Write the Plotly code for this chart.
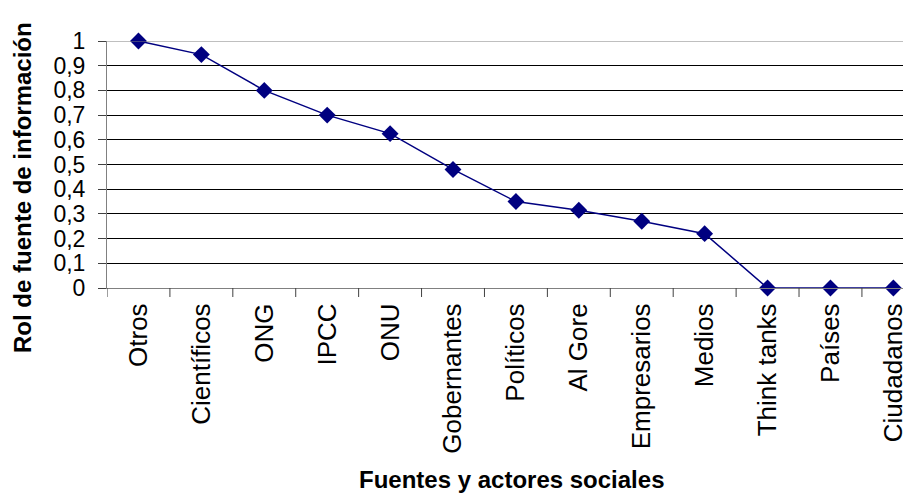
import plotly.graph_objects as go

categories = ["Otros", "Científicos", "ONG", "IPCC", "ONU", "Gobernantes", "Políticos",
              "Al Gore", "Empresarios", "Medios", "Think tanks", "Países", "Ciudadanos"]
values = [1.0, 0.945, 0.8, 0.7, 0.625, 0.48, 0.35, 0.315, 0.27, 0.22, 0.0, 0.0, 0.0]
y_title = "Rol de fuente de información"
x_title = "Fuentes y actores sociales"

FONT = "Liberation Sans, Arial, sans-serif"

# page body has an 8px default margin; figure drawn at offset (8, 8)
W, H = 903, 485
L, T, B = 99, 33, 205
PH = H - T - B  # plot height

fig = go.Figure()
fig.add_trace(go.Scatter(
    x=list(range(len(categories))), y=values, mode="lines+markers",
    line=dict(color="#000080", width=1.5),
    marker=dict(symbol="diamond", size=13, color="#000080"),
    cliponaxis=False, showlegend=False,
))

fig.update_layout(
    width=W, height=H,
    margin=dict(l=L, r=0, t=T, b=B, pad=0),
    paper_bgcolor="white", plot_bgcolor="white",
    separators=",.",
    font=dict(family=FONT, color="black"),
    xaxis=dict(
        type="linear", range=[-0.5, 12.28],
        tickmode="array", tickvals=list(range(len(categories))), ticktext=categories,
        tickangle=-90, tickfont=dict(size=26, family=FONT),
        showgrid=False, zeroline=False,
        showline=True, linecolor="#808080", linewidth=1,
        ticks="", ticklabelstandoff=4,
    ),
    yaxis=dict(
        range=[0, 1], dtick=0.1, tick0=0,
        tickfont=dict(size=23, family=FONT),
        showgrid=True, gridcolor="black", gridwidth=1,
        zeroline=False,
        showline=True, linecolor="#808080", linewidth=1,
        ticks="outside", ticklen=8, tickcolor="#404040",
        ticklabelstandoff=8,
    ),
    annotations=[
        dict(text=f"<b>{x_title}</b>", xref="paper", yref="paper",
             x=(512 - 8 - L) / (W - L), y=(PH - (479 - 8 - T)) / PH,
             xanchor="center", yanchor="middle",
             showarrow=False, font=dict(size=24, family=FONT)),
        dict(text=f"<b>{y_title}</b>", xref="paper", yref="paper",
             x=(22 - 8 - L) / (W - L), y=(PH - (188 - 8 - T)) / PH,
             xanchor="center", yanchor="middle",
             textangle=-90, showarrow=False, font=dict(size=24, family=FONT)),
    ],
)

shapes = []
for i in range(len(categories) + 1):
    b = i - 0.5
    shapes.append(dict(type="line", xref="x", yref="paper", x0=b, x1=b, y0=0, y1=-9 / PH,
                       line=dict(color="#404040", width=1)))
shapes.append(dict(type="line", xref="paper", yref="y", x0=0, x1=1, y0=1, y1=1,
                   line=dict(color="#808080", width=1)))
fig.update_layout(shapes=shapes)

fig.write_html("out.html")
